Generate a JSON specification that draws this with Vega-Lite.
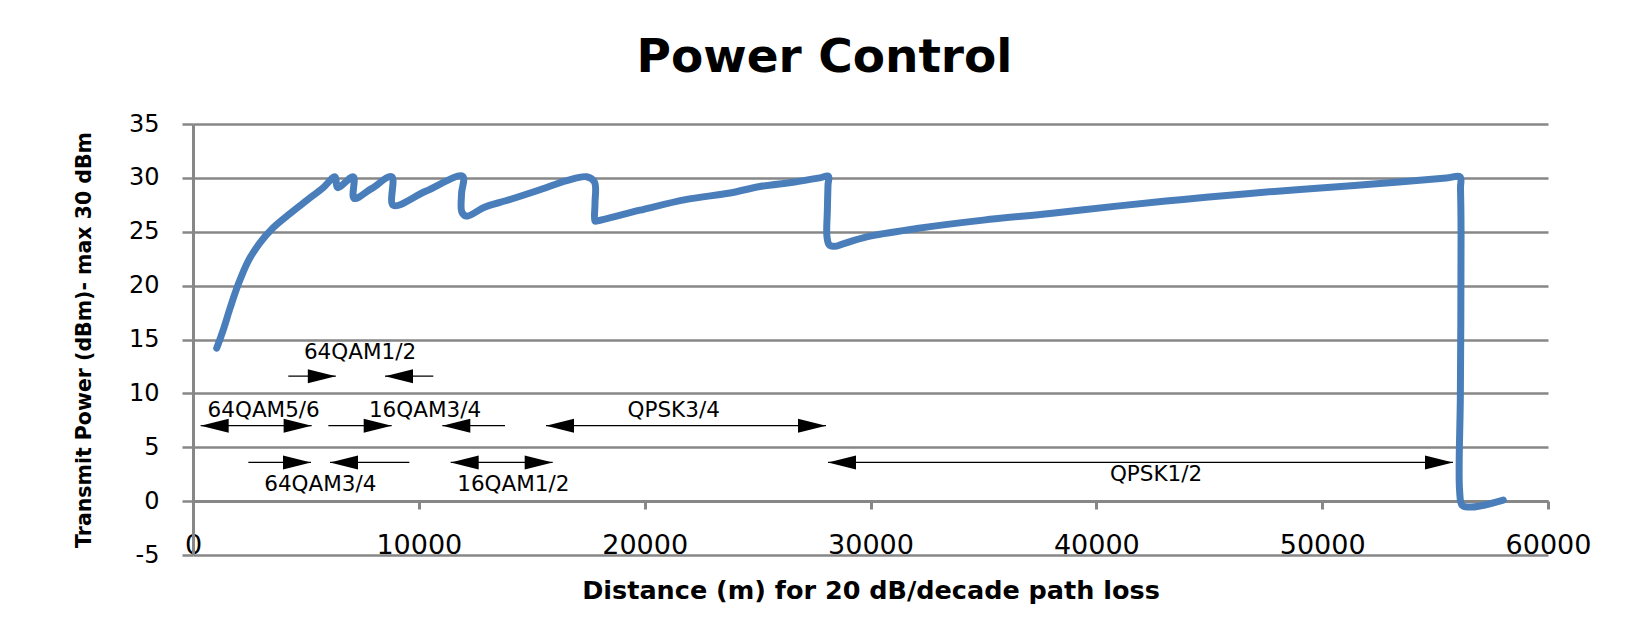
{
  "$schema": "https://vega.github.io/schema/vega-lite/v6.json",
  "width": 1355,
  "height": 431,
  "autosize": {"type": "none"},
  "padding": {"left": 193, "top": 124, "right": 84, "bottom": 79},
  "background": "white",
  "title": {
    "text": "Power Control",
    "font": "DejaVu Sans",
    "fontSize": 47,
    "fontWeight": "bold",
    "color": "#000000",
    "anchor": "middle",
    "frame": "group",
    "dx": -46,
    "dy": 45,
    "baseline": "alphabetic",
    "offset": 38
  },
  "config": {
    "view": {"stroke": null},
    "font": "DejaVu Sans"
  },
  "datasets": {
    "curve": [
      {"d": 1050, "p": 14.2},
      {"d": 1340, "p": 15.9},
      {"d": 1640, "p": 17.9},
      {"d": 2000, "p": 20.1},
      {"d": 2450, "p": 22.3},
      {"d": 2970, "p": 24.0},
      {"d": 3560, "p": 25.4},
      {"d": 4300, "p": 26.7},
      {"d": 5030, "p": 27.9},
      {"d": 5770, "p": 29.1},
      {"d": 6290, "p": 30.1},
      {"d": 6400, "p": 29.1},
      {"d": 7100, "p": 30.1},
      {"d": 7130, "p": 28.1},
      {"d": 7900, "p": 29.0},
      {"d": 8800, "p": 30.1},
      {"d": 8870, "p": 27.45},
      {"d": 10300, "p": 28.75},
      {"d": 11940, "p": 30.15},
      {"d": 11890, "p": 28.5},
      {"d": 11910, "p": 26.8},
      {"d": 12120, "p": 26.45},
      {"d": 12930, "p": 27.3},
      {"d": 13890, "p": 27.9},
      {"d": 15365, "p": 28.9},
      {"d": 16550, "p": 29.75},
      {"d": 17430, "p": 30.1},
      {"d": 17780, "p": 29.6},
      {"d": 17800, "p": 27.6},
      {"d": 17800, "p": 26.0},
      {"d": 17875, "p": 26.0},
      {"d": 19794, "p": 27.0},
      {"d": 21861, "p": 28.0},
      {"d": 23779, "p": 28.6},
      {"d": 25107, "p": 29.2},
      {"d": 26582, "p": 29.6},
      {"d": 27750, "p": 30.0},
      {"d": 28140, "p": 30.15},
      {"d": 28120, "p": 29.4},
      {"d": 28090, "p": 27.0},
      {"d": 28070, "p": 24.6},
      {"d": 28170, "p": 23.8},
      {"d": 28420, "p": 23.65},
      {"d": 28750, "p": 23.85},
      {"d": 29831, "p": 24.53},
      {"d": 32045, "p": 25.3},
      {"d": 34995, "p": 26.08},
      {"d": 37948, "p": 26.7},
      {"d": 40900, "p": 27.38},
      {"d": 43851, "p": 28.0},
      {"d": 46804, "p": 28.56},
      {"d": 49018, "p": 28.93},
      {"d": 52118, "p": 29.4},
      {"d": 55500, "p": 29.98},
      {"d": 56103, "p": 30.1},
      {"d": 56125, "p": 29.0},
      {"d": 56150, "p": 25.0},
      {"d": 56120, "p": 10.0},
      {"d": 56085, "p": 1.0},
      {"d": 56200, "p": -0.4},
      {"d": 56500, "p": -0.55},
      {"d": 56990, "p": -0.45},
      {"d": 58020, "p": 0.1}
    ],
    "arrows": [
      {"x1": 4220, "x2": 6323, "y": 11.6},
      {"x1": 8502, "x2": 10641, "y": 11.6},
      {"x1": 340, "x2": 5254, "y": 7.0},
      {"x1": 5993, "x2": 8797, "y": 7.0},
      {"x1": 11040, "x2": 13816, "y": 7.0},
      {"x1": 15631, "x2": 28029, "y": 7.0},
      {"x1": 2450, "x2": 5225, "y": 3.59},
      {"x1": 6066, "x2": 9580, "y": 3.59},
      {"x1": 11410, "x2": 15927, "y": 3.59},
      {"x1": 28118, "x2": 55793, "y": 3.59}
    ],
    "heads": [
      {"x": 6323, "y": 11.6, "dir": "right"},
      {"x": 8502, "y": 11.6, "dir": "left"},
      {"x": 340, "y": 7.0, "dir": "left"},
      {"x": 5254, "y": 7.0, "dir": "right"},
      {"x": 8797, "y": 7.0, "dir": "right"},
      {"x": 11040, "y": 7.0, "dir": "left"},
      {"x": 15631, "y": 7.0, "dir": "left"},
      {"x": 28029, "y": 7.0, "dir": "right"},
      {"x": 5225, "y": 3.59, "dir": "right"},
      {"x": 6066, "y": 3.59, "dir": "left"},
      {"x": 11410, "y": 3.59, "dir": "left"},
      {"x": 15927, "y": 3.59, "dir": "right"},
      {"x": 28118, "y": 3.59, "dir": "left"},
      {"x": 55793, "y": 3.59, "dir": "right"}
    ],
    "labels": [
      {"text": "64QAM1/2", "x": 7395, "y": 13.15},
      {"text": "64QAM5/6", "x": 3130, "y": 7.77},
      {"text": "16QAM3/4", "x": 10273, "y": 7.77},
      {"text": "QPSK3/4", "x": 21286, "y": 7.83},
      {"text": "64QAM3/4", "x": 5638, "y": 0.96},
      {"text": "16QAM1/2", "x": 14184, "y": 0.96},
      {"text": "QPSK1/2", "x": 42643, "y": 1.86}
    ]
  },
  "layer": [
    {
      "data": {"name": "arrows"},
      "mark": {"type": "rule", "color": "#000000", "strokeWidth": 1.3},
      "encoding": {
        "x": {"field": "x1", "type": "quantitative", "scale": {"domain": [0, 60000], "nice": false}},
        "x2": {"field": "x2"},
        "y": {"field": "y", "type": "quantitative", "scale": {"domain": [-5, 35], "nice": false}}
      }
    },
    {
      "data": {"name": "heads"},
      "mark": {"type": "point", "filled": true, "color": "#000000", "size": 784, "strokeWidth": 0, "opacity": 1},
      "encoding": {
        "x": {"field": "x", "type": "quantitative"},
        "y": {"field": "y", "type": "quantitative"},
        "shape": {
          "field": "dir",
          "type": "nominal",
          "scale": {"domain": ["right", "left"], "range": ["M0,0L-2,-0.5L-2,0.5Z", "M0,0L2,-0.5L2,0.5Z"]},
          "legend": null
        }
      }
    },
    {
      "data": {"name": "labels"},
      "mark": {"type": "text", "font": "DejaVu Sans", "fontSize": 21.5, "color": "#000000", "align": "center", "baseline": "alphabetic"},
      "encoding": {
        "x": {"field": "x", "type": "quantitative"},
        "y": {"field": "y", "type": "quantitative"},
        "text": {"field": "text", "type": "nominal"}
      }
    },
    {
      "data": {"name": "curve"},
      "mark": {"type": "line", "color": "#4A7EBB", "strokeWidth": 7, "strokeCap": "round", "strokeJoin": "round", "interpolate": "catmull-rom"},
      "encoding": {
        "x": {
          "field": "d",
          "type": "quantitative",
          "scale": {"domain": [0, 60000], "nice": false},
          "axis": {
            "title": "Distance (m) for 20 dB/decade path loss",
            "titleFont": "DejaVu Sans",
            "titleFontSize": 25.5,
            "titleFontWeight": "bold",
            "titleColor": "#000000",
            "titleBaseline": "alphabetic",
            "titleX": 677.5,
            "titleY": 97,
            "offset": -54,
            "values": [0, 10000, 20000, 30000, 40000, 50000, 60000],
            "format": "d",
            "grid": false,
            "domainColor": "#878787",
            "domainWidth": 3,
            "tickColor": "#878787",
            "tickWidth": 3,
            "tickSize": 8,
            "labelFont": "DejaVu Sans",
            "labelFontSize": 27,
            "labelColor": "#000000",
            "labelBaseline": "alphabetic",
            "labelPadding": 44,
            "labelOverlap": false,
            "labelFlush": false
          }
        },
        "y": {
          "field": "p",
          "type": "quantitative",
          "scale": {"domain": [-5, 35], "nice": false},
          "axis": {
            "title": "Transmit Power (dBm)- max 30 dBm",
            "titleFont": "DejaVu Sans",
            "titleFontSize": 20.5,
            "titleFontWeight": "bold",
            "titleColor": "#000000",
            "titleBaseline": "alphabetic",
            "titleX": -103,
            "titleY": 215.5,
            "values": [-5, 0, 5, 10, 15, 20, 25, 30, 35],
            "labelExpr": "'' + datum.value",
            "grid": true,
            "gridColor": "#878787",
            "gridWidth": 2.5,
            "domainColor": "#878787",
            "domainWidth": 3,
            "tickColor": "#878787",
            "tickWidth": 2.5,
            "tickSize": 11,
            "labelFont": "DejaVu Sans",
            "labelFontSize": 24,
            "labelColor": "#000000",
            "labelPadding": 23,
            "labelOverlap": false
          }
        },
        "order": {"value": null}
      }
    }
  ]
}
